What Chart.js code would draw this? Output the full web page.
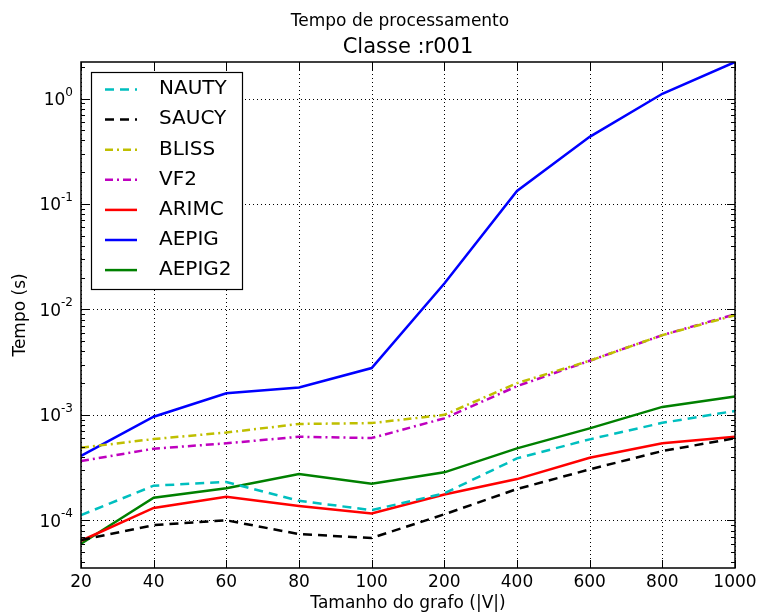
<!DOCTYPE html>
<html>
<head>
<meta charset="utf-8">
<script src="https://cdn.jsdelivr.net/npm/chart.js@4.4.0/dist/chart.umd.min.js"></script>
<style>
  html, body { margin: 0; padding: 0; background: #fff; }
  #wrap { width: 761px; height: 616px; }
</style>
</head>
<body>
<div id="wrap"><canvas id="c" width="761" height="616"></canvas></div>
<script>
const categories = ['20', '40', '60', '80', '100', '200', '400', '600', '800', '1000'];
const nauty  = [1.12e-4, 2.13e-4, 2.31e-4, 1.53e-4, 1.25e-4, 1.80e-4, 3.87e-4, 5.86e-4, 8.4e-4, 1.09e-3];
const saucy  = [6.5e-5, 9.0e-5, 1.0e-4, 7.4e-5, 6.8e-5, 1.14e-4, 1.98e-4, 3.04e-4, 4.54e-4, 6.0e-4];
const bliss  = [4.88e-4, 5.9e-4, 6.8e-4, 8.2e-4, 8.36e-4, 1.0e-3, 2.0e-3, 3.26e-3, 5.7e-3, 8.8e-3];
const vf2    = [3.65e-4, 4.78e-4, 5.37e-4, 6.2e-4, 6.03e-4, 9.27e-4, 1.87e-3, 3.26e-3, 5.7e-3, 9.0e-3];
const arimc  = [6.4e-5, 1.31e-4, 1.67e-4, 1.37e-4, 1.16e-4, 1.76e-4, 2.46e-4, 3.92e-4, 5.37e-4, 6.2e-4];
const aepig  = [4.08e-4, 9.6e-4, 1.6e-3, 1.82e-3, 2.78e-3, 1.76e-2, 0.133, 0.433, 1.11, 2.22];
const aepig2 = [6.0e-5, 1.64e-4, 2.01e-4, 2.75e-4, 2.22e-4, 2.85e-4, 4.81e-4, 7.45e-4, 1.19e-3, 1.49e-3];
const yDecades = [-4, -3, -2, -1, 0];
const yMin = 3.53e-5, yMax = 2.22;
const titleText = 'Tempo de processamento';
const subtitleText = 'Classe :r001';

const FONT = "'DejaVu Sans', sans-serif";

function ds(label, data, color, dash) {
  return {
    label, data, borderColor: color, backgroundColor: color,
    borderWidth: 2.5, borderDash: dash, pointRadius: 0, tension: 0, fill: false
  };
}

const decoPlugin = {
  id: 'deco',
  beforeDatasetsDraw(chart) {
    const ctx = chart.ctx;
    const ca = chart.chartArea;
    const y = chart.scales.y, x = chart.scales.x;
    ctx.save();
    ctx.strokeStyle = '#000';
    ctx.lineWidth = 1;
    ctx.setLineDash([1, 3]);
    ctx.beginPath();
    yDecades.forEach(d => {
      const py = Math.round(y.getPixelForValue(Math.pow(10, d))) + 0.5;
      ctx.moveTo(ca.left, py); ctx.lineTo(ca.right, py);
    });
    categories.forEach((c, i) => {
      const px = Math.round(x.getPixelForValue(i)) + 0.5;
      ctx.moveTo(px, ca.top); ctx.lineTo(px, ca.bottom);
    });
    ctx.stroke();
    ctx.restore();
  },
  afterDatasetsDraw(chart) {
    const ctx = chart.ctx;
    const ca = chart.chartArea;
    const y = chart.scales.y, x = chart.scales.x;
    ctx.save();
    // titles
    ctx.fillStyle = '#000';
    ctx.textAlign = 'center';
    ctx.textBaseline = 'alphabetic';
    ctx.font = '17px ' + FONT;
    ctx.fillText(titleText, 400, 25.5);
    ctx.font = '21px ' + FONT;
    ctx.fillText(subtitleText, (ca.left + ca.right) / 2, 52.5);
    // frame
    ctx.strokeStyle = '#000';
    ctx.lineWidth = 1.5;
    ctx.setLineDash([]);
    ctx.strokeRect(ca.left, ca.top, ca.right - ca.left, ca.bottom - ca.top);
    // y ticks: major and minor, inside on left and right
    ctx.lineWidth = 1;
    ctx.beginPath();
    for (let d = -5; d <= 0; d++) {
      for (let m = 1; m <= 9; m++) {
        const v = m * Math.pow(10, d);
        if (v < yMin || v > yMax) continue;
        const py = Math.round(y.getPixelForValue(v)) + 0.5;
        const len = (m === 1) ? 8 : 4;
        ctx.moveTo(ca.left, py); ctx.lineTo(ca.left + len, py);
        ctx.moveTo(ca.right, py); ctx.lineTo(ca.right - len, py);
      }
    }
    // x ticks top and bottom
    categories.forEach((c, i) => {
      const px = Math.round(x.getPixelForValue(i)) + 0.5;
      ctx.moveTo(px, ca.bottom); ctx.lineTo(px, ca.bottom - 8);
      ctx.moveTo(px, ca.top); ctx.lineTo(px, ca.top + 8);
    });
    ctx.stroke();
    // y tick labels with superscript
    ctx.fillStyle = '#000';
    ctx.textBaseline = 'alphabetic';
    yDecades.forEach(d => {
      const py = y.getPixelForValue(Math.pow(10, d));
      const exp = String(d);
      ctx.font = '12px ' + FONT;
      const ew = ctx.measureText(exp).width;
      ctx.font = '17px ' + FONT;
      const bw = ctx.measureText('10').width;
      const right = ca.left - 8;
      const bx = right - ew - bw;
      ctx.textAlign = 'left';
      ctx.fillText('10', bx, py + 6.5);
      ctx.font = '12px ' + FONT;
      ctx.fillText(exp, bx + bw, py - 3);
    });
    // legend
    const lx = 91, ly = 72, lw = 151, lh = 217;
    ctx.fillStyle = '#fff';
    ctx.fillRect(lx, ly, lw, lh);
    ctx.strokeStyle = '#000';
    ctx.lineWidth = 1.2;
    ctx.strokeRect(lx + 0.5, ly + 0.5, lw, lh);
    chart.data.datasets.forEach((d, i) => {
      const ry = 89.5 + i * 30.1;
      ctx.strokeStyle = d.borderColor;
      ctx.lineWidth = 2.5;
      ctx.setLineDash(d.borderDash || []);
      ctx.beginPath();
      ctx.moveTo(105, ry); ctx.lineTo(137, ry);
      ctx.stroke();
      ctx.setLineDash([]);
      ctx.fillStyle = '#000';
      ctx.font = '20px ' + FONT;
      ctx.textAlign = 'left';
      ctx.textBaseline = 'alphabetic';
      ctx.fillText(d.label, 159, 94.3 + i * 30.1);
    });
    ctx.restore();
  }
};

new Chart(document.getElementById('c'), {
  type: 'line',
  data: {
    labels: categories,
    datasets: [
      ds('NAUTY', nauty, '#00bfbf', [9, 6]),
      ds('SAUCY', saucy, '#000000', [9, 6]),
      ds('BLISS', bliss, '#bfbf00', [8, 4, 2, 4]),
      ds('VF2', vf2, '#bf00bf', [8, 4, 2, 4]),
      ds('ARIMC', arimc, '#ff0000', []),
      ds('AEPIG', aepig, '#0000ff', []),
      ds('AEPIG2', aepig2, '#008000', [])
    ]
  },
  options: {
    responsive: false,
    animation: false,
    devicePixelRatio: 1,
    layout: { padding: { left: 0, right: 26, top: 62, bottom: 0 } },
    plugins: {
      legend: { display: false },
      tooltip: { enabled: false },
      title: { display: false },
      subtitle: { display: false }
    },
    scales: {
      x: {
        type: 'category',
        offset: false,
        grid: { display: false, drawTicks: false, offset: false },
        border: { display: false },
        ticks: { color: '#000', font: { family: FONT, size: 17 }, padding: 4, maxRotation: 0, autoSkip: false },
        title: { display: true, text: 'Tamanho do grafo (|V|)', color: '#000',
                 font: { family: FONT, size: 17 }, padding: { top: 0, bottom: 2 } },
        afterFit(s) { s.height = 48; }
      },
      y: {
        type: 'logarithmic',
        min: yMin, max: yMax,
        afterBuildTicks(s) { s.ticks = yDecades.map(d => ({ value: Math.pow(10, d), major: true })); },
        grid: { display: false, drawTicks: false },
        border: { display: false },
        ticks: { display: false },
        title: { display: true, text: 'Tempo (s)', color: '#000',
                 font: { family: FONT, size: 17 }, padding: { top: 10, bottom: 0 } },
        afterFit(s) { s.width = 81; }
      }
    }
  },
  plugins: [decoPlugin]
});
</script>
</body>
</html>
